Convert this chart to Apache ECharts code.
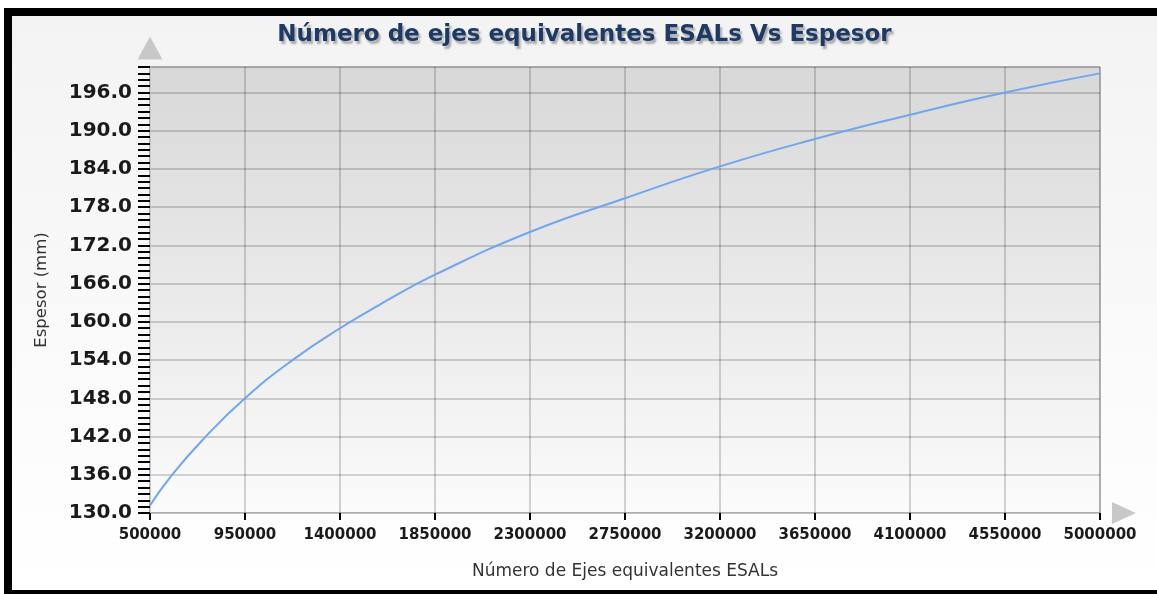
<!DOCTYPE html>
<html>
<head>
<meta charset="utf-8">
<script src="https://cdn.jsdelivr.net/npm/echarts@6/dist/echarts.min.js"></script>
<style>
  html, body { margin: 0; padding: 0; background: #ffffff; }
  #frame {
    position: absolute; left: 4px; top: 8px;
    width: 1145px; height: 574px;
    border-left: 8px solid #000; border-top: 8px solid #000; border-bottom: 4px solid #000;
    background: linear-gradient(#f3f3f3, #ffffff);
  }
  #chart { width: 1145px; height: 574px; }
</style>
</head>
<body>
<div id="frame"><div id="chart"></div></div>
<script>
// Traffic (ESALs) and the resulting slab thickness in mm
const esals = [500000, 600000, 750000, 950000, 1175000, 1400000, 1625000, 1850000,
               2300000, 2750000, 3200000, 3650000, 4100000, 4550000, 5000000];
const espesor = [131.2, 135.8, 141.5, 148.0, 154.0, 159.0, 163.4, 167.4,
                 174.1, 179.4, 184.4, 188.7, 192.5, 196.0, 199.0];

// x axis ticks run from 500000 in steps of 450000; the axis counts from 0
// so the ticks land on the labelled values
const xStart = 500000;
const xEnd = 5000000;
const xStep = 450000;
const yMin = 130;
const yMax = 200;
const yStep = 6;

const titleText = 'Número de ejes equivalentes ESALs Vs Espesor';
const xName = 'Número de Ejes equivalentes ESALs';
const yName = 'Espesor (mm)';

const points = esals.map((v, i) => [v - xStart, espesor[i]]);

const gridLine = { color: 'rgba(0,0,0,0.22)', width: 1.5 };

const chart = echarts.init(document.getElementById('chart'));
chart.setOption({
  animation: false,
  title: {
    text: titleText,
    left: 'center',
    top: 3,
    textStyle: {
      fontFamily: 'DejaVu Sans',
      fontWeight: 'bold',
      fontSize: 23,
      color: '#1d3a66',
      textShadowColor: 'rgba(0,0,0,0.3)',
      textShadowBlur: 2,
      textShadowOffsetX: 2,
      textShadowOffsetY: 3
    }
  },
  grid: {
    left: 138, right: 57, top: 51, bottom: 77,
    show: true,
    borderColor: '#a8a8a8',
    borderWidth: 1,
    backgroundColor: {
      type: 'linear', x: 0, y: 0, x2: 0, y2: 1,
      colorStops: [{ offset: 0, color: '#d8d8d8' }, { offset: 1, color: '#fbfbfb' }]
    }
  },
  xAxis: {
    type: 'value',
    min: 0,
    max: xEnd - xStart,
    interval: xStep,
    name: xName,
    nameLocation: 'middle',
    nameGap: 50,
    nameTextStyle: { fontFamily: 'DejaVu Sans', fontSize: 17, color: '#333' },
    axisLine: {
      show: true,
      lineStyle: { color: '#c8c8c8', type: 'dotted', width: 1 },
      symbol: ['none', 'triangle'],
      symbolSize: [22, 24],
      symbolOffset: [0, 24]
    },
    axisTick: { show: true, length: 7, lineStyle: { color: '#000', width: 2 } },
    axisLabel: {
      margin: 15,
      fontFamily: 'DejaVu Sans',
      fontWeight: 'bold',
      fontSize: 15,
      color: '#1a1a1a',
      formatter: v => String(v + xStart)
    },
    splitLine: { show: true, lineStyle: gridLine }
  },
  yAxis: {
    type: 'value',
    min: yMin,
    max: yMax,
    interval: yStep,
    name: yName,
    nameLocation: 'middle',
    nameGap: 100,
    nameTextStyle: { fontFamily: 'DejaVu Sans', fontSize: 16.5, color: '#333' },
    axisLine: {
      show: true,
      lineStyle: { color: '#c8c8c8', width: 1 },
      symbol: ['none', 'triangle'],
      symbolSize: [25, 23],
      symbolOffset: [0, 19]
    },
    axisTick: { show: true, length: 12, lineStyle: { color: '#000', width: 2 } },
    minorTick: { show: true, splitNumber: 6, length: 12, lineStyle: { color: '#000', width: 2 } },
    axisLabel: {
      margin: 18,
      fontFamily: 'DejaVu Sans',
      fontWeight: 'bold',
      fontSize: 20,
      color: '#1a1a1a',
      formatter: v => v.toFixed(1),
      showMaxLabel: false
    },
    splitLine: { show: true, lineStyle: gridLine }
  },
  series: [{
    type: 'line',
    data: points,
    showSymbol: false,
    smooth: 0.5,
    lineStyle: { color: '#6fa6ef', width: 2 }
  }]
});
</script>
</body>
</html>
